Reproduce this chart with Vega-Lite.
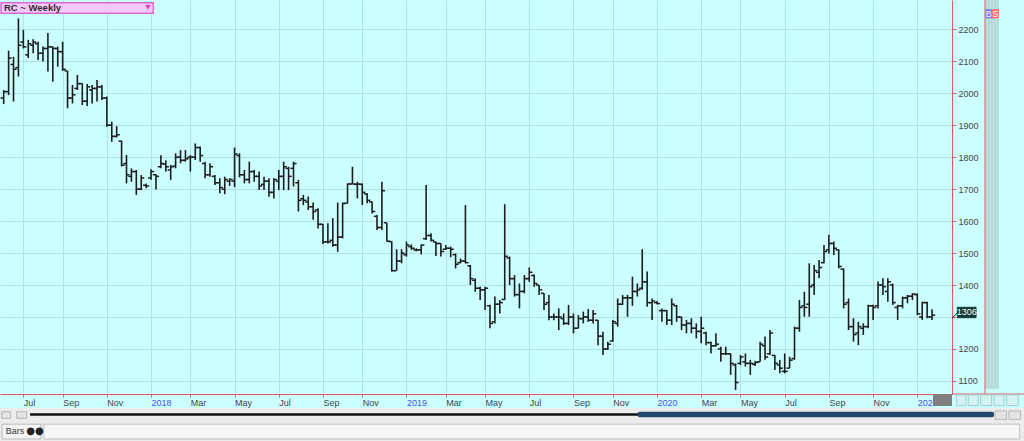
{
"$schema": "https://vega.github.io/schema/vega-lite/v6.json",
"width": 952, "height": 394,
"autosize": {"type": "none"},
"padding": {"left": 0, "top": 0, "right": 72, "bottom": 47},
"background": "#ccffff",
"config": {"view": {"stroke": null, "fill": "#ccffff"}, "font": "Liberation Sans",
 "axisY": {"labelOverlap": false, "labelFlush": false, "labelFontSize": 9, "labelColor": "#454545", "labelAlign": "left", "labelBaseline": "middle", "labelPadding": 2, "tickSize": 4, "tickColor": "#e35d5d", "domainColor": "#e35d5d", "gridColor": "#ade3e3", "tickCount": 12, "title": null},
 "axisX": {"labelOverlap": false, "labelFlush": false, "gridColor": "#ade3e3", "tickColor": "#e35d5d", "domainColor": "#e35d5d", "title": null}},
"datasets": {"ohlc": [
{"d":"2017-06-09","o":1985,"h":2010,"l":1966,"c":2005},
{"d":"2017-06-16","o":2005,"h":2133,"l":1994,"c":2110},
{"d":"2017-06-23","o":2090,"h":2114,"l":1974,"c":2075},
{"d":"2017-06-30","o":2080,"h":2234,"l":2052,"c":2150},
{"d":"2017-07-07","o":2160,"h":2198,"l":2140,"c":2145},
{"d":"2017-07-14","o":2120,"h":2167,"l":2110,"c":2155},
{"d":"2017-07-21","o":2150,"h":2169,"l":2125,"c":2160},
{"d":"2017-07-28","o":2155,"h":2161,"l":2104,"c":2125},
{"d":"2017-08-04","o":2125,"h":2146,"l":2099,"c":2140},
{"d":"2017-08-11","o":2140,"h":2188,"l":2068,"c":2145},
{"d":"2017-08-18","o":2145,"h":2146,"l":2036,"c":2140},
{"d":"2017-08-25","o":2140,"h":2146,"l":2083,"c":2130},
{"d":"2017-09-01","o":2130,"h":2161,"l":2070,"c":2075},
{"d":"2017-09-08","o":2070,"h":2070,"l":1953,"c":1985},
{"d":"2017-09-15","o":1985,"h":2026,"l":1968,"c":1995},
{"d":"2017-09-22","o":2015,"h":2057,"l":2010,"c":2030},
{"d":"2017-09-29","o":2030,"h":2031,"l":1963,"c":1975},
{"d":"2017-10-06","o":1975,"h":2029,"l":1960,"c":2020},
{"d":"2017-10-13","o":2010,"h":2026,"l":1968,"c":2015},
{"d":"2017-10-20","o":2015,"h":2041,"l":1974,"c":2020},
{"d":"2017-10-27","o":2020,"h":2026,"l":1979,"c":1985},
{"d":"2017-11-03","o":1985,"h":1990,"l":1895,"c":1900},
{"d":"2017-11-10","o":1900,"h":1911,"l":1848,"c":1865},
{"d":"2017-11-17","o":1865,"h":1897,"l":1862,"c":1870},
{"d":"2017-11-24","o":1850,"h":1852,"l":1771,"c":1775},
{"d":"2017-12-01","o":1780,"h":1807,"l":1718,"c":1745},
{"d":"2017-12-08","o":1740,"h":1765,"l":1723,"c":1755},
{"d":"2017-12-15","o":1755,"h":1760,"l":1682,"c":1700},
{"d":"2017-12-22","o":1700,"h":1744,"l":1697,"c":1735},
{"d":"2017-12-29","o":1712,"h":1718,"l":1703,"c":1710},
{"d":"2018-01-05","o":1735,"h":1762,"l":1729,"c":1755},
{"d":"2018-01-12","o":1745,"h":1747,"l":1699,"c":1740},
{"d":"2018-01-19","o":1770,"h":1806,"l":1765,"c":1780},
{"d":"2018-01-26","o":1778,"h":1790,"l":1755,"c":1770},
{"d":"2018-02-02","o":1760,"h":1776,"l":1729,"c":1770},
{"d":"2018-02-09","o":1772,"h":1812,"l":1765,"c":1800},
{"d":"2018-02-16","o":1800,"h":1822,"l":1781,"c":1790},
{"d":"2018-02-23","o":1790,"h":1822,"l":1786,"c":1795},
{"d":"2018-03-02","o":1800,"h":1807,"l":1755,"c":1800},
{"d":"2018-03-09","o":1800,"h":1843,"l":1791,"c":1830},
{"d":"2018-03-16","o":1830,"h":1833,"l":1786,"c":1805},
{"d":"2018-03-23","o":1780,"h":1786,"l":1734,"c":1745},
{"d":"2018-03-30","o":1745,"h":1781,"l":1739,"c":1770},
{"d":"2018-04-06","o":1740,"h":1744,"l":1713,"c":1720},
{"d":"2018-04-13","o":1720,"h":1734,"l":1687,"c":1705},
{"d":"2018-04-20","o":1700,"h":1739,"l":1684,"c":1730},
{"d":"2018-04-27","o":1725,"h":1734,"l":1710,"c":1730},
{"d":"2018-05-04","o":1725,"h":1830,"l":1706,"c":1810},
{"d":"2018-05-11","o":1805,"h":1812,"l":1737,"c":1745},
{"d":"2018-05-18","o":1745,"h":1760,"l":1718,"c":1730},
{"d":"2018-05-25","o":1730,"h":1786,"l":1718,"c":1755},
{"d":"2018-06-01","o":1755,"h":1760,"l":1723,"c":1740},
{"d":"2018-06-08","o":1740,"h":1755,"l":1697,"c":1710},
{"d":"2018-06-15","o":1715,"h":1739,"l":1697,"c":1725},
{"d":"2018-06-22","o":1725,"h":1734,"l":1676,"c":1690},
{"d":"2018-06-29","o":1690,"h":1734,"l":1671,"c":1730},
{"d":"2018-07-06","o":1725,"h":1760,"l":1697,"c":1740},
{"d":"2018-07-13","o":1740,"h":1786,"l":1697,"c":1770},
{"d":"2018-07-20","o":1765,"h":1770,"l":1697,"c":1740},
{"d":"2018-07-27","o":1765,"h":1786,"l":1708,"c":1780},
{"d":"2018-08-03","o":1720,"h":1729,"l":1630,"c":1665},
{"d":"2018-08-10","o":1670,"h":1682,"l":1650,"c":1665},
{"d":"2018-08-17","o":1660,"h":1677,"l":1635,"c":1645},
{"d":"2018-08-24","o":1645,"h":1658,"l":1604,"c":1630},
{"d":"2018-08-31","o":1635,"h":1640,"l":1577,"c":1590},
{"d":"2018-09-07","o":1590,"h":1591,"l":1528,"c":1535},
{"d":"2018-09-14","o":1535,"h":1593,"l":1530,"c":1535},
{"d":"2018-09-21","o":1540,"h":1609,"l":1520,"c":1525},
{"d":"2018-09-28","o":1525,"h":1658,"l":1504,"c":1550},
{"d":"2018-10-05","o":1550,"h":1658,"l":1546,"c":1655},
{"d":"2018-10-12","o":1656,"h":1718,"l":1656,"c":1716},
{"d":"2018-10-19","o":1716,"h":1770,"l":1716,"c":1716},
{"d":"2018-10-26","o":1715,"h":1723,"l":1671,"c":1716},
{"d":"2018-11-02","o":1715,"h":1718,"l":1650,"c":1690},
{"d":"2018-11-09","o":1685,"h":1687,"l":1656,"c":1665},
{"d":"2018-11-16","o":1660,"h":1661,"l":1624,"c":1630},
{"d":"2018-11-23","o":1615,"h":1619,"l":1572,"c":1580},
{"d":"2018-11-30","o":1580,"h":1723,"l":1572,"c":1695},
{"d":"2018-12-07","o":1595,"h":1595,"l":1536,"c":1537},
{"d":"2018-12-14","o":1536,"h":1537,"l":1442,"c":1445},
{"d":"2018-12-21","o":1445,"h":1512,"l":1445,"c":1475},
{"d":"2018-12-28","o":1475,"h":1512,"l":1468,"c":1500},
{"d":"2019-01-04","o":1495,"h":1536,"l":1489,"c":1525},
{"d":"2019-01-11","o":1520,"h":1527,"l":1510,"c":1515},
{"d":"2019-01-18","o":1510,"h":1515,"l":1505,"c":1510},
{"d":"2019-01-25","o":1510,"h":1527,"l":1496,"c":1525},
{"d":"2019-02-01","o":1545,"h":1713,"l":1541,"c":1555},
{"d":"2019-02-08","o":1555,"h":1562,"l":1536,"c":1540},
{"d":"2019-02-15","o":1535,"h":1536,"l":1491,"c":1530},
{"d":"2019-02-22","o":1530,"h":1531,"l":1489,"c":1505},
{"d":"2019-03-01","o":1512,"h":1525,"l":1510,"c":1515},
{"d":"2019-03-08","o":1515,"h":1520,"l":1487,"c":1512},
{"d":"2019-03-15","o":1495,"h":1499,"l":1452,"c":1465},
{"d":"2019-03-22","o":1470,"h":1483,"l":1468,"c":1475},
{"d":"2019-03-29","o":1475,"h":1650,"l":1468,"c":1470},
{"d":"2019-04-05","o":1460,"h":1463,"l":1400,"c":1420},
{"d":"2019-04-12","o":1415,"h":1421,"l":1379,"c":1390},
{"d":"2019-04-19","o":1390,"h":1395,"l":1353,"c":1385},
{"d":"2019-04-26","o":1385,"h":1395,"l":1322,"c":1390},
{"d":"2019-05-03","o":1335,"h":1338,"l":1265,"c":1280},
{"d":"2019-05-10","o":1285,"h":1364,"l":1280,"c":1340},
{"d":"2019-05-17","o":1340,"h":1353,"l":1311,"c":1345},
{"d":"2019-05-24","o":1355,"h":1653,"l":1353,"c":1490},
{"d":"2019-05-31","o":1485,"h":1489,"l":1400,"c":1420},
{"d":"2019-06-07","o":1420,"h":1431,"l":1364,"c":1370},
{"d":"2019-06-14","o":1370,"h":1405,"l":1327,"c":1380},
{"d":"2019-06-21","o":1380,"h":1431,"l":1374,"c":1420},
{"d":"2019-06-28","o":1420,"h":1455,"l":1410,"c":1440},
{"d":"2019-07-05","o":1430,"h":1433,"l":1395,"c":1405},
{"d":"2019-07-12","o":1400,"h":1400,"l":1369,"c":1385},
{"d":"2019-07-19","o":1374,"h":1374,"l":1322,"c":1340},
{"d":"2019-07-26","o":1345,"h":1369,"l":1290,"c":1300},
{"d":"2019-08-02","o":1300,"h":1311,"l":1290,"c":1300},
{"d":"2019-08-09","o":1300,"h":1327,"l":1259,"c":1300},
{"d":"2019-08-16","o":1295,"h":1311,"l":1275,"c":1280},
{"d":"2019-08-23","o":1280,"h":1338,"l":1275,"c":1300},
{"d":"2019-08-30","o":1300,"h":1311,"l":1249,"c":1265},
{"d":"2019-09-06","o":1265,"h":1306,"l":1265,"c":1295},
{"d":"2019-09-13","o":1295,"h":1317,"l":1280,"c":1300},
{"d":"2019-09-20","o":1300,"h":1325,"l":1285,"c":1290},
{"d":"2019-09-27","o":1290,"h":1322,"l":1280,"c":1310},
{"d":"2019-10-04","o":1290,"h":1291,"l":1212,"c":1240},
{"d":"2019-10-11","o":1240,"h":1254,"l":1181,"c":1200},
{"d":"2019-10-18","o":1200,"h":1223,"l":1197,"c":1215},
{"d":"2019-10-25","o":1225,"h":1291,"l":1223,"c":1285},
{"d":"2019-11-01","o":1280,"h":1358,"l":1270,"c":1340},
{"d":"2019-11-08","o":1340,"h":1369,"l":1338,"c":1360},
{"d":"2019-11-15","o":1360,"h":1369,"l":1301,"c":1360},
{"d":"2019-11-22","o":1360,"h":1426,"l":1335,"c":1380},
{"d":"2019-11-29","o":1380,"h":1405,"l":1364,"c":1385},
{"d":"2019-12-06","o":1390,"h":1512,"l":1385,"c":1410},
{"d":"2019-12-13","o":1410,"h":1442,"l":1332,"c":1345},
{"d":"2019-12-20","o":1345,"h":1358,"l":1291,"c":1350},
{"d":"2019-12-27","o":1345,"h":1350,"l":1340,"c":1342},
{"d":"2020-01-03","o":1320,"h":1327,"l":1285,"c":1320},
{"d":"2020-01-10","o":1320,"h":1322,"l":1275,"c":1290},
{"d":"2020-01-17","o":1290,"h":1358,"l":1275,"c":1340},
{"d":"2020-01-24","o":1335,"h":1338,"l":1285,"c":1300},
{"d":"2020-01-31","o":1300,"h":1301,"l":1259,"c":1275},
{"d":"2020-02-07","o":1275,"h":1291,"l":1249,"c":1280},
{"d":"2020-02-14","o":1280,"h":1296,"l":1249,"c":1265},
{"d":"2020-02-21","o":1265,"h":1280,"l":1233,"c":1255},
{"d":"2020-02-28","o":1255,"h":1301,"l":1218,"c":1265},
{"d":"2020-03-06","o":1250,"h":1254,"l":1212,"c":1220},
{"d":"2020-03-13","o":1220,"h":1223,"l":1186,"c":1210},
{"d":"2020-03-20","o":1210,"h":1249,"l":1207,"c":1215},
{"d":"2020-03-27","o":1200,"h":1207,"l":1160,"c":1185},
{"d":"2020-04-03","o":1185,"h":1207,"l":1181,"c":1185},
{"d":"2020-04-10","o":1185,"h":1186,"l":1119,"c":1155},
{"d":"2020-04-17","o":1150,"h":1155,"l":1072,"c":1095},
{"d":"2020-04-24","o":1155,"h":1181,"l":1150,"c":1175},
{"d":"2020-05-01","o":1160,"h":1186,"l":1145,"c":1155},
{"d":"2020-05-08","o":1155,"h":1166,"l":1119,"c":1155},
{"d":"2020-05-15","o":1152,"h":1163,"l":1147,"c":1158},
{"d":"2020-05-22","o":1160,"h":1223,"l":1160,"c":1215},
{"d":"2020-05-29","o":1210,"h":1239,"l":1166,"c":1175},
{"d":"2020-06-05","o":1185,"h":1259,"l":1181,"c":1250},
{"d":"2020-06-12","o":1180,"h":1181,"l":1134,"c":1155},
{"d":"2020-06-19","o":1150,"h":1166,"l":1124,"c":1140},
{"d":"2020-06-26","o":1130,"h":1186,"l":1124,"c":1130},
{"d":"2020-07-03","o":1140,"h":1176,"l":1140,"c":1165},
{"d":"2020-07-10","o":1170,"h":1270,"l":1166,"c":1265},
{"d":"2020-07-17","o":1265,"h":1353,"l":1254,"c":1330},
{"d":"2020-07-24","o":1335,"h":1379,"l":1301,"c":1330},
{"d":"2020-07-31","o":1340,"h":1468,"l":1301,"c":1395},
{"d":"2020-08-07","o":1400,"h":1463,"l":1369,"c":1445},
{"d":"2020-08-14","o":1440,"h":1478,"l":1421,"c":1455},
{"d":"2020-08-21","o":1470,"h":1525,"l":1468,"c":1505},
{"d":"2020-08-28","o":1510,"h":1557,"l":1499,"c":1530},
{"d":"2020-09-04","o":1530,"h":1536,"l":1494,"c":1515},
{"d":"2020-09-11","o":1510,"h":1512,"l":1452,"c":1458},
{"d":"2020-09-18","o":1450,"h":1452,"l":1327,"c":1340},
{"d":"2020-09-25","o":1345,"h":1358,"l":1259,"c":1270},
{"d":"2020-10-02","o":1270,"h":1296,"l":1223,"c":1245},
{"d":"2020-10-09","o":1250,"h":1285,"l":1212,"c":1270},
{"d":"2020-10-16","o":1265,"h":1280,"l":1244,"c":1270},
{"d":"2020-10-23","o":1270,"h":1338,"l":1265,"c":1335},
{"d":"2020-10-30","o":1335,"h":1338,"l":1291,"c":1330},
{"d":"2020-11-06","o":1335,"h":1411,"l":1327,"c":1400},
{"d":"2020-11-13","o":1400,"h":1421,"l":1369,"c":1395},
{"d":"2020-11-20","o":1380,"h":1421,"l":1348,"c":1410},
{"d":"2020-11-27","o":1400,"h":1405,"l":1338,"c":1345},
{"d":"2020-12-04","o":1330,"h":1338,"l":1291,"c":1335},
{"d":"2020-12-11","o":1335,"h":1364,"l":1327,"c":1360},
{"d":"2020-12-18","o":1360,"h":1369,"l":1343,"c":1365},
{"d":"2020-12-25","o":1365,"h":1374,"l":1353,"c":1372},
{"d":"2021-01-01","o":1370,"h":1374,"l":1306,"c":1310},
{"d":"2021-01-08","o":1300,"h":1348,"l":1291,"c":1345},
{"d":"2021-01-15","o":1345,"h":1348,"l":1296,"c":1300},
{"d":"2021-01-22","o":1300,"h":1324,"l":1291,"c":1306}
]},
"layer": [
{"data": {"name": "ohlc"}, "mark": {"type": "rule", "color": "#1c1c1c", "strokeWidth": 1.6},
 "encoding": {
  "x": {"field": "d", "type": "temporal",
   "scale": {"type": "utc", "domain": [{"year": 2017, "month": 6, "date": 3, "hours": 17, "minutes": 30, "utc": true}, {"year": 2021, "month": 2, "date": 19, "hours": 10, "minutes": 20, "utc": true}], "nice": false},
   "axis": {"title": null, "grid": true, "gridColor": "#ade3e3", "gridWidth": 1,
    "values": [
     {"year": 2017, "month": 7, "date": 7, "utc": true}, {"year": 2017, "month": 9, "date": 1, "utc": true}, {"year": 2017, "month": 11, "date": 3, "utc": true},
     {"year": 2018, "month": 1, "date": 5, "utc": true}, {"year": 2018, "month": 3, "date": 2, "utc": true}, {"year": 2018, "month": 5, "date": 4, "utc": true},
     {"year": 2018, "month": 7, "date": 6, "utc": true}, {"year": 2018, "month": 9, "date": 7, "utc": true}, {"year": 2018, "month": 11, "date": 2, "utc": true},
     {"year": 2019, "month": 1, "date": 4, "utc": true}, {"year": 2019, "month": 3, "date": 1, "utc": true}, {"year": 2019, "month": 4, "date": 26, "utc": true},
     {"year": 2019, "month": 6, "date": 28, "utc": true}, {"year": 2019, "month": 8, "date": 30, "utc": true}, {"year": 2019, "month": 10, "date": 25, "utc": true},
     {"year": 2019, "month": 12, "date": 27, "utc": true}, {"year": 2020, "month": 2, "date": 28, "utc": true}, {"year": 2020, "month": 4, "date": 24, "utc": true},
     {"year": 2020, "month": 6, "date": 26, "utc": true}, {"year": 2020, "month": 8, "date": 28, "utc": true}, {"year": 2020, "month": 10, "date": 30, "utc": true},
     {"year": 2021, "month": 1, "date": 1, "utc": true}],
    "labelExpr": "utcFormat(datum.value + 604800000, utcmonth(datum.value + 604800000) == 0 ? '%Y' : '%b')",
    "labelColor": {"condition": {"test": "utcmonth(datum.value + 604800000) == 0", "value": "#4f4ff2"}, "value": "#454545"},
    "labelAlign": "left", "labelBaseline": "top", "labelPadding": 1, "labelFontSize": 9, "labelFont": "Liberation Sans",
    "labelFlush": false, "labelOverlap": false,
    "tickSize": 3, "tickColor": "#e35d5d", "domainColor": "#e35d5d", "domainWidth": 1}},
  "y": {"field": "l", "type": "quantitative",
   "scale": {"domain": [1059.2, 2291.6], "nice": false, "zero": false},
   "axis": {"title": null, "orient": "right", "grid": true, "gridColor": "#ade3e3", "gridWidth": 1,
    "values": [1100, 1200, 1300, 1400, 1500, 1600, 1700, 1800, 1900, 2000, 2100, 2200], "format": "d",
    "labelExpr": "datum.value == 1300 ? '' : datum.label",
    "labelAlign": "left", "labelBaseline": "middle", "labelPadding": 2, "labelFontSize": 9, "labelFont": "Liberation Sans", "labelColor": "#454545",
    "labelFlush": false, "labelOverlap": false,
    "tickSize": 4, "tickColor": "#e35d5d", "domainColor": "#e35d5d", "domainWidth": 1}},
  "y2": {"field": "h"}}},
{"data": {"name": "ohlc"}, "mark": {"type": "tick", "orient": "horizontal", "size": 3, "thickness": 1.5, "xOffset": -1.6, "color": "#1c1c1c", "opacity": 1},
 "encoding": {
  "x": {"field": "d", "type": "temporal"},
  "y": {"field": "o", "type": "quantitative"}}},
{"data": {"name": "ohlc"}, "mark": {"type": "tick", "orient": "horizontal", "size": 3, "thickness": 1.5, "xOffset": 1.6, "color": "#1c1c1c", "opacity": 1},
 "encoding": {
  "x": {"field": "d", "type": "temporal"},
  "y": {"field": "c", "type": "quantitative"}}},
{"data": {"values": [{}]}, "mark": {"type": "rect", "fill": "#b8dddd"},
 "encoding": {
  "x": {"datum": {"year": 2021, "month": 4, "date": 8, "hours": 1, "utc": true}, "type": "temporal"},
  "x2": {"datum": {"year": 2021, "month": 4, "date": 27, "hours": 8, "utc": true}},
  "y": {"datum": 2300, "type": "quantitative"},
  "y2": {"datum": 1074.8}}},
{"data": {"values": [{}]}, "mark": {"type": "rule", "color": "#e35d5d", "strokeWidth": 1},
 "encoding": {
  "x": {"datum": {"year": 2021, "month": 4, "date": 7, "hours": 11, "utc": true}, "type": "temporal"},
  "y": {"datum": 2300, "type": "quantitative"},
  "y2": {"datum": 1059.2}}},
{"data": {"values": [{}]}, "mark": {"type": "rule", "color": "#e35d5d", "strokeWidth": 1},
 "encoding": {
  "x": {"datum": {"year": 2021, "month": 2, "date": 19, "hours": 10, "utc": true}, "type": "temporal"},
  "x2": {"datum": {"year": 2021, "month": 6, "date": 5, "utc": true}},
  "y": {"datum": 1059.2, "type": "quantitative"}}},
{"data": {"values": [{}]}, "mark": {"type": "rect", "fill": "#d6f3f3", "stroke": "#9fcfcf", "strokeWidth": 1},
 "encoding": {
  "x": {"datum": {"year": 2021, "month": 2, "date": 26, "hours": 2, "utc": true}, "type": "temporal"},
  "x2": {"datum": {"year": 2021, "month": 3, "date": 11, "hours": 9, "utc": true}},
  "y": {"datum": 1056.1, "type": "quantitative"},
  "y2": {"datum": 1022.7}}},
{"data": {"values": [{}]}, "mark": {"type": "rect", "fill": "#d6f3f3", "stroke": "#9fcfcf", "strokeWidth": 1},
 "encoding": {
  "x": {"datum": {"year": 2021, "month": 3, "date": 14, "hours": 15, "utc": true}, "type": "temporal"},
  "x2": {"datum": {"year": 2021, "month": 3, "date": 28, "hours": 22, "utc": true}},
  "y": {"datum": 1056.1, "type": "quantitative"},
  "y2": {"datum": 1022.7}}},
{"data": {"values": [{}]}, "mark": {"type": "rect", "fill": "#d6f3f3", "stroke": "#9fcfcf", "strokeWidth": 1},
 "encoding": {
  "x": {"datum": {"year": 2021, "month": 4, "date": 1, "hours": 8, "utc": true}, "type": "temporal"},
  "x2": {"datum": {"year": 2021, "month": 4, "date": 17, "hours": 0, "utc": true}},
  "y": {"datum": 1056.1, "type": "quantitative"},
  "y2": {"datum": 1022.7}}},
{"data": {"values": [{}]}, "mark": {"type": "rect", "fill": "#d6f3f3", "stroke": "#9fcfcf", "strokeWidth": 1},
 "encoding": {
  "x": {"datum": {"year": 2021, "month": 4, "date": 20, "hours": 8, "utc": true}, "type": "temporal"},
  "x2": {"datum": {"year": 2021, "month": 5, "date": 4, "hours": 13, "utc": true}},
  "y": {"datum": 1056.1, "type": "quantitative"},
  "y2": {"datum": 1022.7}}},
{"data": {"values": [{}]}, "mark": {"type": "rect", "fill": "#d6f3f3", "stroke": "#9fcfcf", "strokeWidth": 1},
 "encoding": {
  "x": {"datum": {"year": 2021, "month": 5, "date": 8, "hours": 7, "utc": true}, "type": "temporal"},
  "x2": {"datum": {"year": 2021, "month": 5, "date": 24, "hours": 22, "utc": true}},
  "y": {"datum": 1056.1, "type": "quantitative"},
  "y2": {"datum": 1022.7}}},
{"data": {"values": [{}]}, "mark": {"type": "rect", "fill": "#ececec"},
 "encoding": {
  "x": {"datum": {"year": 2017, "month": 6, "date": 1, "utc": true}, "type": "temporal"},
  "x2": {"datum": {"year": 2021, "month": 6, "date": 5, "utc": true}},
  "y": {"datum": 1015.4, "type": "quantitative"},
  "y2": {"datum": 880}}},
{"data": {"values": [{}]}, "mark": {"type": "rule", "color": "#111111", "strokeWidth": 2.4},
 "encoding": {
  "x": {"datum": {"year": 2017, "month": 7, "date": 16, "hours": 13, "utc": true}, "type": "temporal"},
  "x2": {"datum": {"year": 2019, "month": 12, "date": 2, "utc": true}},
  "y": {"datum": 995.1, "type": "quantitative"}}},
{"data": {"values": [{}]}, "mark": {"type": "rect", "fill": "#25466d", "cornerRadius": 2},
 "encoding": {
  "x": {"datum": {"year": 2019, "month": 11, "date": 29, "hours": 12, "utc": true}, "type": "temporal"},
  "x2": {"datum": {"year": 2021, "month": 4, "date": 20, "hours": 7, "utc": true}},
  "y": {"datum": 1003.8, "type": "quantitative"},
  "y2": {"datum": 986.3}}},
{"data": {"values": [{}]}, "mark": {"type": "rect", "fill": "#e4e4e4", "stroke": "#b5b5b5", "strokeWidth": 1},
 "encoding": {
  "x": {"datum": {"year": 2017, "month": 6, "date": 6, "hours": 3, "utc": true}, "type": "temporal"},
  "x2": {"datum": {"year": 2017, "month": 6, "date": 19, "utc": true}},
  "y": {"datum": 1003.8, "type": "quantitative"},
  "y2": {"datum": 983.2}}},
{"data": {"values": [{}]}, "mark": {"type": "rect", "fill": "#e4e4e4", "stroke": "#b5b5b5", "strokeWidth": 1},
 "encoding": {
  "x": {"datum": {"year": 2017, "month": 6, "date": 27, "hours": 12, "utc": true}, "type": "temporal"},
  "x2": {"datum": {"year": 2017, "month": 7, "date": 11, "hours": 19, "utc": true}},
  "y": {"datum": 1003.8, "type": "quantitative"},
  "y2": {"datum": 983.2}}},
{"data": {"values": [{}]}, "mark": {"type": "rect", "fill": "#e4e4e4", "stroke": "#b5b5b5", "strokeWidth": 1},
 "encoding": {
  "x": {"datum": {"year": 2021, "month": 4, "date": 21, "hours": 17, "utc": true}, "type": "temporal"},
  "x2": {"datum": {"year": 2021, "month": 5, "date": 8, "hours": 7, "utc": true}},
  "y": {"datum": 1006, "type": "quantitative"},
  "y2": {"datum": 980}}},
{"data": {"values": [{}]}, "mark": {"type": "rect", "fill": "#e4e4e4", "stroke": "#b5b5b5", "strokeWidth": 1},
 "encoding": {
  "x": {"datum": {"year": 2021, "month": 5, "date": 11, "hours": 15, "utc": true}, "type": "temporal"},
  "x2": {"datum": {"year": 2021, "month": 5, "date": 28, "hours": 5, "utc": true}},
  "y": {"datum": 1006, "type": "quantitative"},
  "y2": {"datum": 980}}},
{"data": {"values": [{}]}, "mark": {"type": "rect", "fill": "#f4f4f4", "stroke": "#b8b8b8", "strokeWidth": 1},
 "encoding": {
  "x": {"datum": {"year": 2017, "month": 6, "date": 6, "hours": 14, "utc": true}, "type": "temporal"},
  "x2": {"datum": {"year": 2017, "month": 8, "date": 1, "utc": true}},
  "y": {"datum": 964.9, "type": "quantitative"},
  "y2": {"datum": 918.5}}},
{"data": {"values": [{}]}, "mark": {"type": "rect", "fill": "#f7f7f7", "stroke": "#c0c0c0", "strokeWidth": 1},
 "encoding": {
  "x": {"datum": {"year": 2017, "month": 8, "date": 5, "utc": true}, "type": "temporal"},
  "x2": {"datum": {"year": 2021, "month": 5, "date": 27, "utc": true}},
  "y": {"datum": 964.9, "type": "quantitative"},
  "y2": {"datum": 918.5}}},
{"data": {"values": [{}]}, "mark": {"type": "text", "text": "Bars", "align": "left", "baseline": "middle", "fontSize": 9, "color": "#333333"},
 "encoding": {
  "x": {"datum": {"year": 2017, "month": 6, "date": 12, "utc": true}, "type": "temporal"},
  "y": {"datum": 943.5, "type": "quantitative"}}},
{"data": {"values": [{}]}, "mark": {"type": "text", "text": "●●", "align": "left", "baseline": "middle", "fontSize": 10, "font": "DejaVu Sans", "color": "#222222"},
 "encoding": {
  "x": {"datum": {"year": 2017, "month": 7, "date": 11, "utc": true}, "type": "temporal"},
  "y": {"datum": 944, "type": "quantitative"}}},
{"data": {"values": [{}]}, "mark": {"type": "rect", "fill": "#7f7f7f"},
 "encoding": {
  "x": {"datum": {"year": 2021, "month": 1, "date": 23, "hours": 8, "utc": true}, "type": "temporal"},
  "x2": {"datum": {"year": 2021, "month": 2, "date": 19, "hours": 10, "utc": true}},
  "y": {"datum": 1058.5, "type": "quantitative"},
  "y2": {"datum": 1021.6}}},
{"data": {"name": "ohlc"}, "transform": [{"filter": "time(datum.d) == utc(2021, 0, 22)"}],
 "mark": {"type": "point", "shape": "M2.53,-0.78L4.4,-0.78L4.4,0.26L2.53,0.26Z M2,0.29L2.53,-0.21", "size": 400, "filled": true, "fill": "#0e3a38", "stroke": "#0e3a38", "strokeWidth": 1, "opacity": 1},
 "encoding": {
  "x": {"field": "d", "type": "temporal"},
  "y": {"field": "c", "type": "quantitative"}}},
{"data": {"name": "ohlc"}, "transform": [{"filter": "time(datum.d) == utc(2021, 0, 22)"}],
 "mark": {"type": "text", "dx": 34.6, "dy": -2.6, "align": "center", "baseline": "middle", "fontSize": 9, "color": "#ffffff"},
 "encoding": {
  "x": {"field": "d", "type": "temporal"},
  "y": {"field": "c", "type": "quantitative"},
  "text": {"field": "c", "type": "quantitative", "format": "d"}}},
{"data": {"values": [{}]}, "mark": {"type": "rect", "fill": "#f7c9f7", "stroke": "#d66ad6", "strokeWidth": 1.5},
 "encoding": {
  "x": {"datum": {"year": 2017, "month": 6, "date": 5, "hours": 4, "utc": true}, "type": "temporal"},
  "x2": {"datum": {"year": 2018, "month": 1, "date": 8, "hours": 5, "utc": true}},
  "y": {"datum": 2283.2, "type": "quantitative"},
  "y2": {"datum": 2250}}},
{"data": {"values": [{}]}, "mark": {"type": "text", "text": "RC ~ Weekly", "align": "left", "baseline": "middle", "fontSize": 9.5, "fontWeight": "bold", "color": "#33283a"},
 "encoding": {
  "x": {"datum": {"year": 2017, "month": 6, "date": 9, "hours": 10, "utc": true}, "type": "temporal"},
  "y": {"datum": 2266.6, "type": "quantitative"}}},
{"data": {"values": [{}]}, "mark": {"type": "point", "shape": "triangle-down", "size": 28, "filled": true, "color": "#d23cd2", "opacity": 1},
 "encoding": {
  "x": {"datum": {"year": 2017, "month": 12, "date": 31, "hours": 12, "utc": true}, "type": "temporal"},
  "y": {"datum": 2268.5, "type": "quantitative"}}},
{"data": {"values": [{}]}, "mark": {"type": "rect", "fill": "#7373ff"},
 "encoding": {
  "x": {"datum": {"year": 2021, "month": 4, "date": 8, "hours": 1, "utc": true}, "type": "temporal"},
  "x2": {"datum": {"year": 2021, "month": 4, "date": 17, "hours": 8, "utc": true}},
  "y": {"datum": 2262.5, "type": "quantitative"},
  "y2": {"datum": 2234.4}}},
{"data": {"values": [{}]}, "mark": {"type": "rect", "fill": "#ff6a6a"},
 "encoding": {
  "x": {"datum": {"year": 2021, "month": 4, "date": 17, "hours": 8, "utc": true}, "type": "temporal"},
  "x2": {"datum": {"year": 2021, "month": 4, "date": 27, "hours": 8, "utc": true}},
  "y": {"datum": 2262.5, "type": "quantitative"},
  "y2": {"datum": 2234.4}}},
{"data": {"values": [{}]}, "mark": {"type": "text", "text": "B", "align": "center", "baseline": "middle", "fontSize": 9, "color": "#ffffff"},
 "encoding": {
  "x": {"datum": {"year": 2021, "month": 4, "date": 12, "hours": 20, "utc": true}, "type": "temporal"},
  "y": {"datum": 2248.4, "type": "quantitative"}}},
{"data": {"values": [{}]}, "mark": {"type": "text", "text": "S", "align": "center", "baseline": "middle", "fontSize": 9, "color": "#ffffff"},
 "encoding": {
  "x": {"datum": {"year": 2021, "month": 4, "date": 22, "hours": 8, "utc": true}, "type": "temporal"},
  "y": {"datum": 2248.4, "type": "quantitative"}}}
]
}
